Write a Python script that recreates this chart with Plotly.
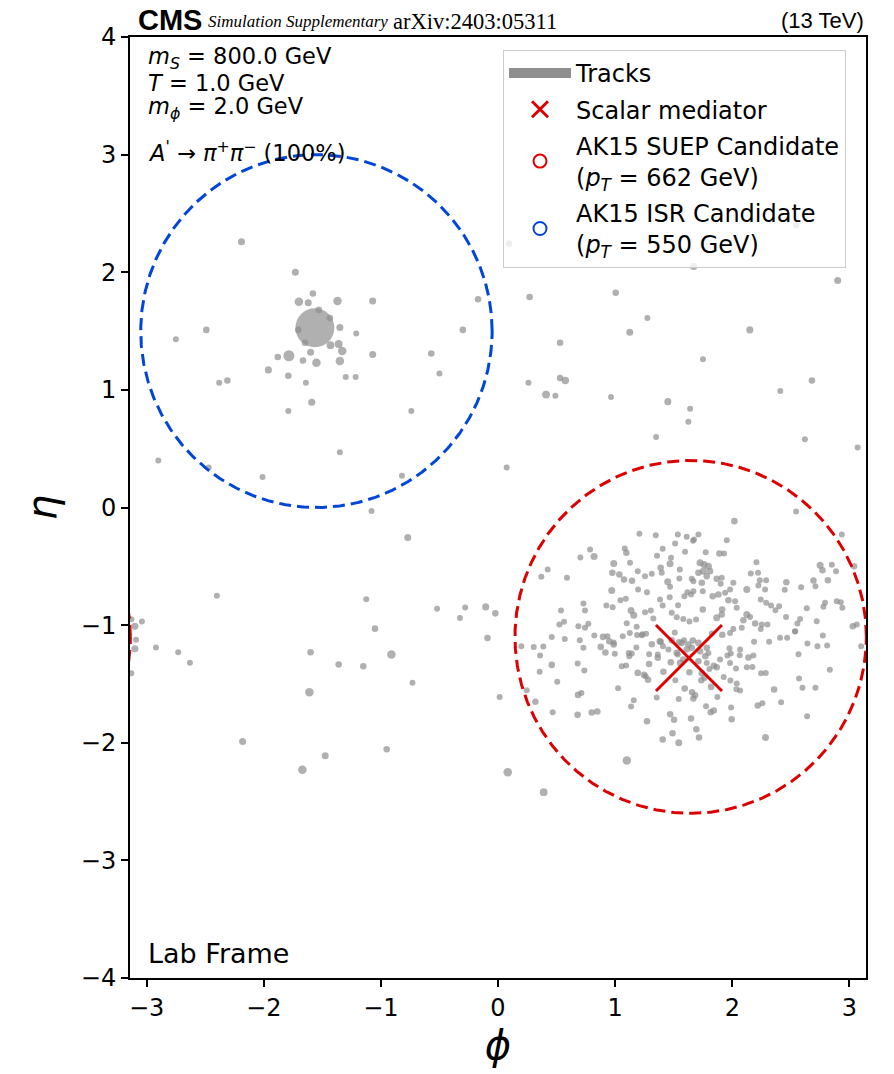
import numpy as np
import plotly.graph_objects as go

# ---- track data: azimuth phi, pseudorapidity eta, relative track pT ----
# tracks around the ISR jet
isr_phi = [-2.19, -1.73, -1.58, -1.70, -1.62, -1.37, -1.07, -0.17, -1.563, -1.53,
           -1.435, -1.35, -1.705, -1.648, -2.49, -2.75, -1.21, -0.30, -1.43, -1.36,
           -1.33, -1.60, -1.785, -1.88, -1.665, -1.55, -1.35, -1.07, -0.57, -0.50,
           -1.96, -1.79, -1.30, -1.215, -2.31, -2.38, -1.64, -1.59, -1.79, -0.74]
isr_eta = [2.26, 2.00, 1.82, 1.75, 1.74, 1.755, 1.755, 1.77, 1.528, 1.68,
           1.61, 1.53, 1.51, 1.40, 1.51, 1.43, 1.48, 1.51, 1.38, 1.39,
           1.33, 1.32, 1.29, 1.28, 1.25, 1.23, 1.245, 1.30, 1.31, 1.14,
           1.17, 1.12, 1.11, 1.11, 1.08, 1.06, 1.06, 0.895, 0.82, 0.82]
isr_pt = [2, 2, 1.5, 4, 2, 4, 2, 1.5, 200, 1.5,
          1.5, 2, 1.5, 1.5, 1.5, 1, 1, 1.5, 3, 3,
          4, 2, 9, 1.5, 1.5, 4, 4, 2, 1.5, 1,
          2, 1.5, 1, 1, 1.5, 1, 1, 2, 1, 1]

# isolated tracks away from both jets
iso_phi = [1.67, 2.90, 0.27, 1.005, 1.275, 1.125, 2.15, 0.53, 1.75, 0.26,
           0.53, 0.575, 0.41, 0.49, 0.965, 1.45, 2.41, 2.68, 1.64, 1.625,
           1.35, 2.62, 3.07, 0.074, 2.545, 0.094,
           -2.90, -2.47, -2.01, -1.35, -0.82, -1.08, -0.77, -2.40, -1.125, -0.52,
           -0.28, -0.105, -0.023, -0.325, -3.04, -3.13, -3.10, -3.09, -3.10, -2.92,
           -2.73, -2.63, -3.13, -1.60, -1.36, -1.15, -0.91, -1.05, -0.73, -0.09,
           0.014, -1.61, -2.18, -1.475, -0.95, -1.67, 0.083, 0.39, 1.10]
iso_eta = [2.05, 1.93, 1.79, 1.825, 1.61, 1.49, 1.51, 1.40, 1.26, 1.06,
           1.10, 1.08, 0.96, 0.95, 0.94, 0.90, 0.99, 1.08, 0.84, 0.73,
           0.60, 0.58, 0.51, 0.34, 2.40, 2.245,
           0.40, 0.34, 0.26, 0.47, 0.27, -0.03, -0.255, -0.75, -0.78, -0.86,
           -0.85, -0.845, -0.90, -0.94, -0.97, -0.95, -1.01, -1.125, -1.20, -1.19,
           -1.23, -1.32, -1.41, -1.23, -1.335, -1.35, -1.25, -1.03, -1.49, -1.11,
           -1.61, -1.57, -1.99, -2.11, -2.055, -2.23, -2.25, -2.42, -2.15]
iso_pt = [2.5, 2, 1.5, 1.5, 1, 2, 2, 1.5, 1, 1,
          1.5, 2.5, 3, 1, 1, 2, 1, 1.5, 1, 1,
          1, 1, 1, 1, 1.5, 1.5,
          1, 1, 1, 1, 1, 1, 2, 1, 1, 1,
          1, 2, 1.5, 1, 1, 1, 2, 1, 2, 1,
          1, 1, 1, 1.5, 1.5, 1.5, 4, 1.5, 1, 1.5,
          1, 4, 2, 2, 1.5, 4, 4, 3, 4]

# tracks in the SUEP jet
suep_phi = [2.283, 1.543, 1.406, 1.716, 1.49, 1.693, 1.272, 1.995, 1.648, 1.503,
            2.639, 1.47, 1.816, 1.842, 1.99, 1.776, 1.136, 0.848, 0.80, 0.68,
            0.467, 2.218, 2.257, 2.417, 0.319, 1.159, 1.543, 1.355, 0.683, 0.712,
            1.668, 1.682, 1.873, 0.245, 1.025, 1.594, 1.657, 2.035, 2.067, 2.357,
            2.599, 2.71, 0.506, 1.281, 1.261, 1.514, 1.736, 1.762, 1.819, 1.984,
            2.038, 2.57, 2.833, 0.356, 0.737, 1.193, 1.247, 1.412, 1.634, 1.74,
            1.927, 2.246, 2.286, 0.68, 0.459, 1.056, 1.093, 1.29, 1.475, 1.842,
            1.867, 2.032, 2.124, 2.172, 0.359, 1.29, 1.364, 1.77, 1.958, 2.064,
            2.138, 2.18, 2.565, 0.199, 0.305, 0.387, 0.729, 0.877, 0.917, 0.997,
            1.116, 1.181, 1.313, 1.389, 1.569, 1.711, 1.782, 1.976, 2.186, 2.314,
            2.641, 2.727, 2.81, 3.10, 0.459, 0.57, 0.698, 0.822, 0.934, 0.988,
            1.232, 1.509, 1.663, 1.825, 1.915, 2.408, 2.468, 2.536, 2.773,
            1.611, 1.654, 1.725, 1.796, 1.554, 1.711, 1.782, 1.455, 1.526, 1.896,
            1.981,
            1.207, 1.347, 1.535, 1.611, 1.512, 1.665, 1.082, 1.096, 0.786, 0.82,
            0.703, 1.358, 1.406, 1.597, 1.477, 0.424, 0.37, 0.589, 0.988, 1.127,
            0.976, 1.036, 1.076, 1.144, 1.193, 1.255, 1.313, 1.389, 1.398, 1.469,
            1.552, 1.548, 1.449, 1.469, 1.654, 1.617, 1.591, 1.648, 0.971, 1.196,
            1.272, 0.729, 0.743, 0.925, 0.979, 1.045, 1.091, 1.383, 1.406, 1.466,
            1.537, 1.136, 1.159, 1.255, 1.304, 1.326, 1.483, 1.526, 1.582, 1.634,
            0.538, 0.564, 0.524, 0.686, 0.743, 0.771, 1.099, 1.184, 1.125, 0.897,
            0.95, 0.988, 1.065, 1.187, 1.227, 1.264, 1.381, 1.409, 1.483, 1.546,
            1.588, 1.625, 1.142, 1.121, 1.364, 1.535, 1.582,
            1.674, 1.711, 1.953, 2.935, 1.773, 1.89, 1.93, 1.725, 1.759, 1.796,
            1.81, 1.753, 1.711, 1.782, 1.867, 1.91, 1.74, 1.668, 2.206, 2.158,
            2.22, 2.235, 2.289, 2.009, 1.901, 2.462, 2.75, 2.77, 2.85, 2.886,
            2.693, 2.816, 2.71, 2.588, 2.448, 2.223, 2.28, 2.124, 1.981, 1.939,
            1.881, 1.833, 1.748, 1.668, 2.024, 1.967, 2.038, 1.913, 1.91, 1.748,
            1.691, 1.867, 2.243, 2.289, 2.331, 2.40, 2.368, 2.636, 2.792, 2.778,
            2.892, 2.926, 2.94, 2.124, 2.152, 2.095, 2.195, 2.252, 2.30, 2.243,
            2.459, 2.556, 2.579, 2.536, 2.721, 3.029, 3.063, 2.009, 1.981, 2.081,
            2.067, 1.987, 1.805, 2.545, 2.018, 3.04]
suep_eta = [-1.956, -2.00, -1.973, -1.956, -1.919, -1.885, -1.817, -1.80, -1.794, -1.805,
            -1.774, -1.757, -1.74, -1.726, -1.70, -1.69, -1.692, -1.735, -1.743, -1.763,
            -1.74, -1.684, -1.664, -1.656, -1.652, -1.639, -1.627, -1.616, -1.593, -1.576,
            -1.624, -1.596, -1.61, -1.553, -1.536, -1.539, -1.57, -1.545, -1.556, -1.548,
            -1.533, -1.533, -1.482, -1.465, -1.434, -1.469, -1.469, -1.448, -1.525, -1.471,
            -1.497, -1.454, -1.38, -1.397, -1.386, -1.406, -1.423, -1.397, -1.40, -1.409,
            -1.44, -1.409, -1.406, -1.327, -1.338, -1.349, -1.344, -1.33, -1.316, -1.346,
            -1.358, -1.369, -1.358, -1.355, -1.259, -1.247, -1.25, -1.264, -1.259, -1.256,
            -1.276, -1.259, -1.247, -1.18, -1.185, -1.182, -1.193, -1.185, -1.233, -1.244,
            -1.236, -1.19, -1.162, -1.142, -1.151, -1.151, -1.193, -1.196, -1.142, -1.142,
            -1.156, -1.18, -1.173, -1.18, -1.10, -1.117, -1.128, -1.088, -1.094, -1.148,
            -1.077, -1.063, -1.131, -1.071, -1.082, -1.108, -1.108, -1.054, -1.088,
            -1.207, -1.193, -1.222, -1.236, -1.321, -1.307, -1.321, -1.207, -1.236, -1.293,
            -1.321,
            -0.224, -0.235, -0.23, -0.249, -0.306, -0.283, -0.349, -0.385, -0.357, -0.417,
            -0.425, -0.411, -0.351, -0.377, -0.428, -0.527, -0.589, -0.598, -0.476, -0.47,
            -0.555, -0.57, -0.612, -0.623, -0.541, -0.584, -0.564, -0.513, -0.555, -0.479,
            -0.527, -0.604, -0.632, -0.674, -0.606, -0.72, -0.754, -0.74, -0.706, -0.697,
            -0.72, -0.816, -0.876, -0.833, -0.848, -0.788, -0.776, -0.782, -0.833, -0.763,
            -0.831, -0.876, -0.916, -0.89, -0.876, -0.944, -0.895, -0.933, -0.947, -0.969,
            -0.876, -0.972, -0.995, -1.009, -1.023, -0.989, -0.984, -1.014, -1.066, -1.10,
            -1.137, -1.165, -1.094, -1.083, -1.086, -1.074, -1.137, -1.18, -1.128, -1.145,
            -1.128, -1.165, -1.241, -1.265, -1.278, -1.25, -1.293,
            -0.272, -0.23, -0.278, -0.23, -0.38, -0.391, -0.391, -0.47, -0.485, -0.499,
            -0.541, -0.541, -0.555, -0.584, -0.606, -0.598, -0.64, -0.627, -0.465, -0.561,
            -0.555, -0.618, -0.618, -0.64, -0.649, -0.635, -0.491, -0.533, -0.487, -0.541,
            -0.621, -0.618, -0.669, -0.678, -0.70, -0.663, -0.697, -0.697, -0.697, -0.725,
            -0.74, -0.754, -0.711, -0.711, -0.797, -0.788, -0.853, -0.867, -0.91, -0.867,
            -0.952, -0.938, -0.782, -0.81, -0.833, -0.839, -0.873, -0.856, -0.81, -0.844,
            -0.797, -0.805, -0.853, -0.91, -0.93, -0.958, -0.986, -0.995, -0.995, -1.032,
            -0.93, -0.986, -0.947, -1.052, -0.967, -1.009, -0.995, -1.032, -1.066, -1.023,
            -1.207, -1.241, -1.372, -0.034, -0.116, -0.499]
suep_pt = [2, 2, 1.5, 1.5, 1.5, 1.5, 1.5, 1.5, 1.5, 1.5,
           1, 1.5, 1.5, 1.5, 1, 1, 1, 1.5, 1.5, 1.5,
           1, 1.5, 1, 1, 1.5, 1, 1, 1, 1.5, 1,
           1.5, 1.5, 1, 1, 1, 1.5, 1.5, 1, 1, 1.5,
           1, 1, 1, 1.5, 1, 1, 1.5, 1.5, 1.5, 1,
           1, 1, 1, 1, 1, 1.5, 1.5, 1.5, 1.5, 1.5,
           1, 1, 1, 1, 1.5, 1, 1, 1.5, 1.5, 1.5,
           1.5, 1, 1, 1, 1, 1, 1, 1.5, 1, 1,
           1.5, 1, 1, 1, 1, 1, 1, 1.5, 1.5, 1,
           1, 1, 1.5, 1.5, 1.5, 1.5, 1.5, 1, 1, 1,
           1, 1, 1, 1, 1, 1, 1, 1, 1, 1,
           1, 1, 1.5, 1, 1.5, 1, 1, 1, 1,
           1.5, 1.5, 1.5, 1, 1.5, 1.5, 1, 1, 1.5, 1,
           1,
           1, 1, 1, 1, 1, 1, 1, 1.5, 1, 2,
           1, 1, 1, 1, 1, 1, 1, 1, 2, 1,
           1.5, 1.5, 1.5, 1.5, 1, 1, 1, 1.5, 1, 2,
           1, 1, 2, 1, 1, 1, 1, 1, 2, 1,
           1, 1, 1, 1, 1, 1, 1, 1, 1, 1,
           1, 2, 2, 1, 1, 1, 1, 1, 1, 1,
           1, 1, 1, 1, 1, 1, 1, 1, 1, 1.5,
           1.5, 1.5, 1, 1, 1, 1, 1.5, 1, 1.5, 1.5,
           1, 1.5, 1, 1, 1.5, 1, 1.5,
           1, 1, 1, 1, 1, 1.5, 1, 2, 2, 2,
           1.5, 2, 1.5, 1.5, 1.5, 1, 1.5, 1, 1, 1,
           1, 1, 1, 1, 1, 1.5, 2, 1.5, 1, 1,
           1.5, 1.5, 1, 1, 1, 1, 1, 2, 1, 1,
           1.5, 1.5, 1, 1, 1, 1.5, 1, 1.5, 1.5, 1.5,
           1, 2, 1, 1, 1, 1, 1, 1, 1, 1,
           1, 1, 1, 2, 1, 1.5, 1.5, 1, 1, 1,
           1, 1, 1, 1, 1, 1.5, 1, 1, 1, 1,
           1, 1, 1, 1, 1.5, 1.5]

# scalar mediator direction
mediator_phi = [1.63]
mediator_eta = [-1.28]

# AK15 jet candidates: (phi, eta) axis, pT in GeV
suep_jet_phi, suep_jet_eta, suep_jet_pt = 1.645, -1.10, 662
isr_jet_phi, isr_jet_eta, isr_jet_pt = -1.55, 1.50, 550
jet_radius = 1.5

TRACK_GREY = "#8f8f8f"
SUEP_RED = "#dd0000"
ISR_BLUE = "#0046d8"
FONT = "DejaVu Sans"

phi = np.array(isr_phi + iso_phi + suep_phi)
eta = np.array(isr_eta + iso_eta + suep_eta)
pt = np.array(isr_pt + iso_pt + suep_pt)
sizes = 3.5 + 2.5 * np.sqrt(pt)

fig = go.Figure()

fig.add_trace(go.Scatter(
    x=phi, y=eta, mode="markers", showlegend=False, hoverinfo="skip",
    marker=dict(color=TRACK_GREY, size=sizes, line=dict(width=0)),
))


def jet_outline(phi0, eta0):
    t = np.linspace(0, 2 * np.pi, 721)
    return phi0 + jet_radius * np.cos(t), eta0 + jet_radius * np.sin(t)


# jet cones; phi is periodic, so each cone is also drawn shifted by +-2*pi
for (p0, e0, col) in [(suep_jet_phi, suep_jet_eta, SUEP_RED),
                      (isr_jet_phi, isr_jet_eta, ISR_BLUE)]:
    for shift in (0.0, -2 * np.pi, 2 * np.pi):
        cx, cy = jet_outline(p0 + shift, e0)
        fig.add_trace(go.Scatter(
            x=cx, y=cy, mode="lines", showlegend=False, hoverinfo="skip",
            line=dict(color=col, width=3, dash="12px,6px"),
        ))

# legend entries
fig.add_trace(go.Scatter(
    x=[None], y=[None], mode="lines", name="Tracks", legendgroup="a",
    line=dict(color=TRACK_GREY, width=17),
))
fig.add_trace(go.Scatter(
    x=mediator_phi, y=mediator_eta, mode="markers", name="Scalar mediator",
    legendgroup="b", cliponaxis=True,
    marker=dict(symbol="x-thin-open", size=66, color=SUEP_RED,
                line=dict(color=SUEP_RED, width=3)),
))
fig.add_trace(go.Scatter(
    x=[None], y=[None], mode="markers", legendgroup="c",
    name=f"AK15 SUEP Candidate<br>(<i>p</i><sub><i>T</i></sub> = {suep_jet_pt} GeV)",
    marker=dict(symbol="circle-open", size=13, color=SUEP_RED,
                line=dict(color=SUEP_RED, width=2)),
))
fig.add_trace(go.Scatter(
    x=[None], y=[None], mode="markers", legendgroup="d",
    name=f"AK15 ISR Candidate<br>(<i>p</i><sub><i>T</i></sub> = {isr_jet_pt} GeV)",
    marker=dict(symbol="circle-open", size=13, color=ISR_BLUE,
                line=dict(color=ISR_BLUE, width=2)),
))

L, R, T, B = 130, 28, 37, 96
W, H = 894, 1074
ph = H - T - B
pw = W - L - R


def py(y_px):
    return (H - B - y_px) / ph


def px(x_px):
    return (x_px - L) / pw


annotations = [
    dict(text="<i>m</i><sub><i>S</i></sub> = 800.0 GeV", x=px(146), y=py(58)),
    dict(text="<i>T</i> = 1.0 GeV", x=px(146), y=py(83)),
    dict(text="<i>m</i><sub><i>ϕ</i></sub> = 2.0 GeV", x=px(146), y=py(108)),
    dict(text="<i>A</i><sup>'</sup> → <i>π</i><sup>+</sup><i>π</i><sup>−</sup> (100%)",
         x=px(146), y=py(151)),
    dict(text="Lab Frame", x=px(146), y=py(953), font=dict(size=27)),
]
for a in annotations:
    a.setdefault("font", dict(size=22.5))
    a.update(xref="paper", yref="paper", xanchor="left", yanchor="middle",
             showarrow=False)

annotations += [
    dict(text="<b>CMS</b>", x=px(136), y=py(20), xref="paper", yref="paper",
         xanchor="left", yanchor="middle", showarrow=False,
         font=dict(family="Liberation Sans", size=29, color="black")),
    dict(text="<i>Simulation Supplementary</i>",
         x=px(206), y=py(22), xref="paper", yref="paper",
         xanchor="left", yanchor="middle", showarrow=False,
         font=dict(family="Liberation Serif", size=17, color="black")),
    dict(text="arXiv:2403:05311",
         x=px(391), y=py(22), xref="paper", yref="paper",
         xanchor="left", yanchor="middle", showarrow=False,
         font=dict(family="Liberation Serif", size=22.5, color="black")),
    dict(text="(13 TeV)", x=1, y=py(21), xref="paper", yref="paper",
         xanchor="right", yanchor="middle", showarrow=False,
         font=dict(family="Liberation Sans", size=22, color="black")),
]

axis_common = dict(
    showgrid=False, zeroline=False, showline=True, linecolor="black", linewidth=2,
    mirror=True, ticks="outside", ticklen=7, tickwidth=1.5, tickcolor="black",
    tickfont=dict(size=24, family=FONT, color="black"),
)

fig.update_layout(
    width=W, height=H,
    margin=dict(l=L, r=R, t=T, b=B),
    paper_bgcolor="white", plot_bgcolor="white",
    font=dict(family=FONT, color="black"),
    xaxis=dict(range=[-np.pi, np.pi], tickvals=[-3, -2, -1, 0, 1, 2, 3],
               title=dict(text="<i>ϕ</i>", font=dict(size=40), standoff=6),
               **axis_common),
    yaxis=dict(range=[-4, 4], tickvals=[-4, -3, -2, -1, 0, 1, 2, 3, 4],
               title=dict(text="<i>η</i>", font=dict(size=40), standoff=12),
               **axis_common),
    legend=dict(
        x=px(503), y=py(50), xanchor="left", yanchor="top",
        bgcolor="rgba(255,255,255,0.8)", bordercolor="#cccccc", borderwidth=1,
        font=dict(size=24, family=FONT, color="black"),
        traceorder="grouped", tracegroupgap=2, itemsizing="trace",
        itemwidth=62,
    ),
    annotations=annotations,
)

fig.write_html("out.html")
